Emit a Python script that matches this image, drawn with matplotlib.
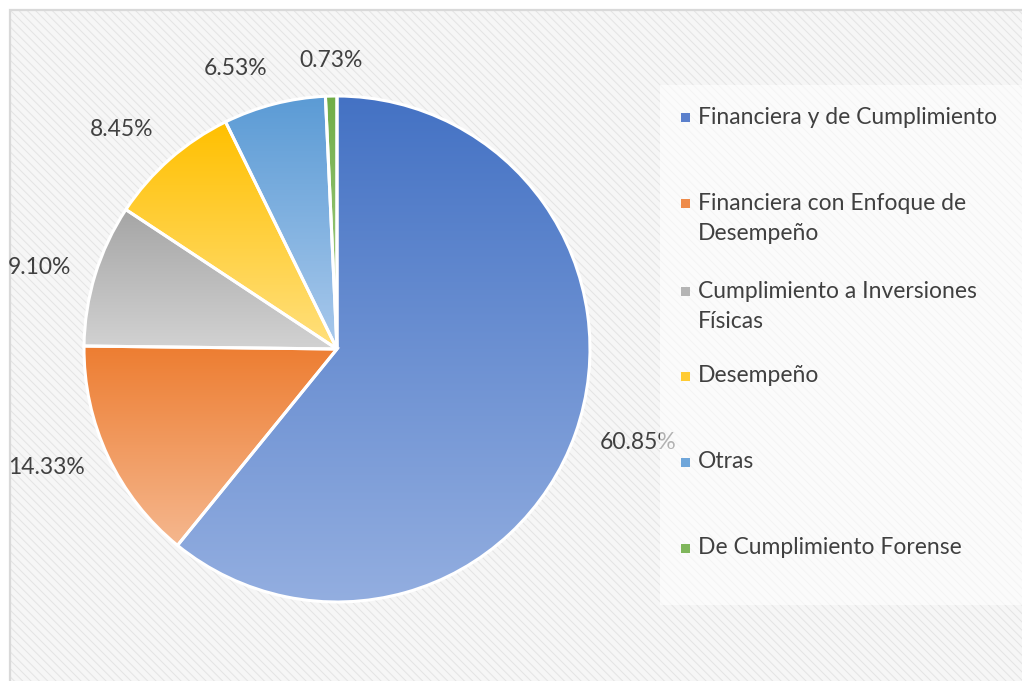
import matplotlib
matplotlib.use("Agg")
import matplotlib.pyplot as plt
import numpy as np
from matplotlib.colors import LinearSegmentedColormap
from matplotlib.patches import Rectangle

categories = ["Financiera y de Cumplimiento",
              "Financiera con Enfoque de\nDesempeño",
              "Cumplimiento a Inversiones\nFísicas",
              "Desempeño",
              "Otras",
              "De Cumplimiento Forense"]
values = [60.85, 14.33, 9.10, 8.45, 6.53, 0.73]
pct_labels = ["60.85%", "14.33%", "9.10%", "8.45%", "6.53%", "0.73%"]

top_colors = ["#4472C4", "#ED7D31", "#A5A5A5", "#FFC000", "#5B9BD5", "#70AD47"]
bottom_colors = ["#93AEE0", "#F5B78E", "#D2D2D2", "#FFE07E", "#A9C9EC", "#A9D18E"]
legend_colors = ["#5B80CC", "#EE8B4A", "#B4B4B4", "#FFCB33", "#6FA6DA", "#7FB65B"]

plt.rcParams['font.family'] = ['Lato', 'DejaVu Sans']
plt.rcParams['hatch.linewidth'] = 0.7
plt.rcParams['hatch.color'] = '#E4E4E4'

W, H = 1022, 681
fig = plt.figure(figsize=(W / 100, H / 100), dpi=100)
fig.patch.set_facecolor('white')

# background chart area with fine diagonal hatch
bg = Rectangle((10 / W, 0), 1 - 10 / W, (H - 10) / H, transform=fig.transFigure,
               facecolor='#F6F6F6', edgecolor='#E4E4E4', hatch='\\\\\\\\', lw=0, zorder=-2)
fig.patches.append(bg)
border = Rectangle((10 / W, -0.01), 1.0, (H - 10) / H + 0.01, transform=fig.transFigure,
                   facecolor='none', edgecolor='#D9D9D9', lw=1.6, zorder=-1)
fig.patches.append(border)

# pie axes
cx, cy, R = 337, 349, 253
ax = fig.add_axes([(cx - R) / W, (H - cy - R) / H, 2 * R / W, 2 * R / H])
ax.set_facecolor('none')
ax.axis('off')

wedges, _ = ax.pie(values, colors=top_colors, startangle=90, counterclock=False,
                   radius=1.0, wedgeprops=dict(edgecolor='white', linewidth=2.2))

grad = np.linspace(0, 1, 256).reshape(-1, 1)
for w, c0, c1 in zip(wedges, top_colors, bottom_colors):
    bb = w.get_path().get_extents()
    cmap = LinearSegmentedColormap.from_list('g', [c0, c1])
    im = ax.imshow(grad, extent=[bb.x0, bb.x1, bb.y0, bb.y1], cmap=cmap, origin='upper',
                   aspect='auto', zorder=1, interpolation='bilinear')
    im.set_clip_path(w)
    w.set_facecolor('none')
    w.set_zorder(2)

ax.set_xlim(-1, 1)
ax.set_ylim(-1, 1)
ax.set_aspect('auto')

# percentage labels
for w, lab in zip(wedges, pct_labels):
    ang = np.deg2rad((w.theta1 + w.theta2) / 2)
    c, s = np.cos(ang), np.sin(ang)
    d = 1.1
    ha = 'left' if c > 0.2 else ('right' if c < -0.2 else 'center')
    va = 'bottom' if s > 0.5 else ('top' if s < -0.5 else 'center')
    ax.text(d * c, d * s, lab, ha=ha, va=va, fontsize=16.5, color='#404040',
            clip_on=False, zorder=5)

# legend box (semi-transparent, drawn above the pie axes)
lbox = Rectangle((660 / W, (H - 605) / H), 1 - 660 / W, 520 / H, transform=fig.transFigure,
                 facecolor='white', edgecolor='none', alpha=0.6, zorder=1)
fig.patches.append(lbox)

legend_first_line_y = [117, 203, 291, 376, 462, 548]
line_pitch = 31
for lab, col, y0 in zip(categories, legend_colors, legend_first_line_y):
    fig.patches.append(Rectangle((681 / W, (H - y0 - 5) / H), 9 / W, 9 / H,
                                 transform=fig.transFigure, facecolor=col,
                                 edgecolor='none', zorder=2))
    for k, line in enumerate(lab.split('\n')):
        fig.text(698 / W, (H - y0 - k * line_pitch) / H, line, ha='left', va='center',
                 fontsize=16.5, color='#404040', zorder=3)

fig.savefig('out.png', dpi=100)
